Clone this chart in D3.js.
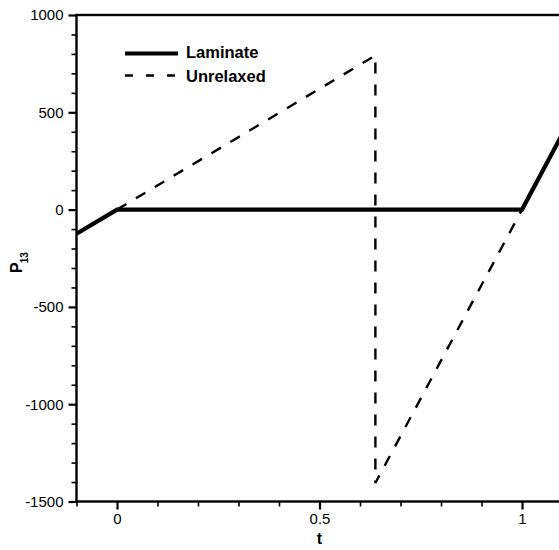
<!DOCTYPE html>
<html>
<head>
<meta charset="utf-8">
<script src="https://cdn.jsdelivr.net/npm/d3@7"></script>
<style>
  html, body { margin: 0; padding: 0; background: #fff; overflow: hidden; }
  svg { display: block; font-family: "Liberation Sans", Arial, sans-serif; }
</style>
</head>
<body>
<svg id="chart" width="559" height="550"></svg>
<script>
// Shear stress P13 versus time t
const tLaminate = [-0.1, 0, 1, 1.1];
const pLaminate = [-124, 0, 0, 390];

const tUnrelaxed = [0, 0.638, 0.638, 1, 1.1];
const pUnrelaxed = [0, 792, -1405, 0, 390];

const xMajor = [0, 0.5, 1];
const xMajorLabels = ["0", "0.5", "1"];
const xMinor = [-0.1, 0.1, 0.2, 0.3, 0.4, 0.6, 0.7, 0.8, 0.9, 1.1];
const yMajor = [-1500, -1000, -500, 0, 500, 1000];
const yMinor = [-1400, -1300, -1200, -1100, -900, -800, -700, -600,
                -400, -300, -200, -100, 100, 200, 300, 400, 600, 700, 800, 900];

const seriesNames = ["Laminate", "Unrelaxed"];

const svg = d3.select("#chart");

const x = d3.scaleLinear().domain([-0.1, 1.1]).range([76.5, 76.5 + 1.2 * 405]);
const y = d3.scaleLinear().domain([-1500, 1000]).range([501.5, 15]);

const line = d3.line().x(d => x(d[0])).y(d => y(d[1]));

// data lines
svg.append("path")
  .datum(d3.zip(tUnrelaxed, pUnrelaxed))
  .attr("d", line)
  .attr("fill", "none")
  .attr("stroke", "#000")
  .attr("stroke-width", 2.4)
  .attr("stroke-dasharray", "11,11");

svg.append("path")
  .datum(d3.zip(tLaminate, pLaminate))
  .attr("d", line)
  .attr("fill", "none")
  .attr("stroke", "#000")
  .attr("stroke-width", 4.2)
  .attr("stroke-linejoin", "miter");

// axes: minor and major ticks
const styleAxis = g => {
  g.select(".domain").remove();
  g.selectAll(".tick line").attr("stroke", "#000").attr("stroke-width", 1.6);
  g.selectAll(".tick text").attr("fill", "#000").attr("font-size", 15);
};

svg.append("g")
  .attr("transform", `translate(${x(-0.1)},0)`)
  .call(d3.axisLeft(y).tickValues(yMinor).tickSize(5).tickFormat(""))
  .call(styleAxis);

svg.append("g")
  .attr("transform", `translate(${x(-0.1)},0)`)
  .call(d3.axisLeft(y).tickValues(yMajor).tickSize(8).tickPadding(5).tickFormat(d3.format("d")))
  .call(styleAxis)
  .call(g => g.selectAll(".tick line").attr("stroke-width", 2.2))
  .call(g => g.selectAll(".tick text").text(d => d < 0 ? "-" + Math.abs(d) : d));

svg.append("g")
  .attr("transform", `translate(0,${y(-1500)})`)
  .call(d3.axisBottom(x).tickValues(xMinor).tickSize(5).tickFormat(""))
  .call(styleAxis);

svg.append("g")
  .attr("transform", `translate(0,${y(-1500)})`)
  .call(d3.axisBottom(x).tickValues(xMajor).tickSize(8).tickPadding(4)
    .tickFormat((d, i) => xMajorLabels[i]))
  .call(styleAxis)
  .call(g => g.selectAll(".tick line").attr("stroke-width", 2.2));

// frame
svg.append("rect")
  .attr("x", x(-0.1))
  .attr("y", y(1000))
  .attr("width", x(1.1) - x(-0.1))
  .attr("height", y(-1500) - y(1000))
  .attr("fill", "none")
  .attr("stroke", "#000")
  .attr("stroke-width", 2.4);

// axis titles
svg.append("text")
  .attr("x", x(0.5))
  .attr("y", 544)
  .attr("text-anchor", "middle")
  .attr("font-weight", "bold")
  .attr("font-size", 16)
  .text("t");

const yTitle = svg.append("text")
  .attr("transform", `translate(21.5,273) rotate(-90)`)
  .attr("font-weight", "bold")
  .attr("font-size", 16);
yTitle.append("tspan").text("P");
yTitle.append("tspan").attr("font-size", 10).attr("dx", -1).attr("dy", 6).text("13");

// legend
const legend = svg.append("g");
const legendY = [53.5, 75.5];
const legendBase = [57.5, 82];
seriesNames.forEach((name, i) => {
  legend.append("line")
    .attr("x1", 125).attr("x2", 178)
    .attr("y1", legendY[i]).attr("y2", legendY[i])
    .attr("stroke", "#000")
    .attr("stroke-width", i === 0 ? 4.2 : 2.4)
    .attr("stroke-dasharray", i === 0 ? null : "8,13");
  legend.append("text")
    .attr("x", 186)
    .attr("y", legendBase[i])
    .attr("font-weight", "bold")
    .attr("font-size", 16.5)
    .text(name);
});
</script>
</body>
</html>
